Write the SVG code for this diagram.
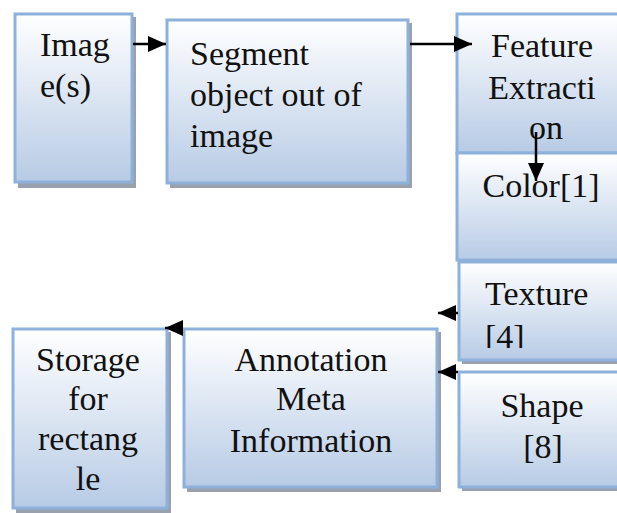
<svg xmlns="http://www.w3.org/2000/svg" width="617" height="513" viewBox="0 0 617 513">
  <defs>
    <linearGradient id="fill" x1="0" y1="0" x2="0" y2="1">
      <stop offset="0" stop-color="#ffffff"/>
      <stop offset="1" stop-color="#b7cbe5"/>
    </linearGradient>
    <marker id="arrow" viewBox="0 0 18 16" refX="18" refY="8" markerWidth="18" markerHeight="16" markerUnits="userSpaceOnUse" orient="auto">
      <path d="M0,0 L18,8 L0,16 z" fill="#000"/>
    </marker>
    <clipPath id="texClip"><rect x="460" y="263" width="160" height="85"/></clipPath>
  </defs>
  <style>
    .box { fill: url(#fill); stroke: #8eb1dc; stroke-width: 3; }
    .shadow { fill: #98a1ad; }
    text { font-family: "Liberation Serif", "Times New Roman", serif; font-size: 34px; fill: #111; }
    .mid { text-anchor: middle; }
    .conn { stroke: #000; stroke-width: 2.5; fill: none; marker-end: url(#arrow); }
  </style>
  <rect width="617" height="513" fill="#fff"/>

  <g id="node-images">
    <rect class="shadow" x="18" y="17" width="118" height="171"/>
    <rect class="box" x="15" y="14" width="117" height="168"/>
    <text x="40" y="56">Imag</text>
    <text x="40" y="97">e(s)</text>
  </g>

  <g id="node-segment">
    <rect class="shadow" x="170" y="23" width="242" height="165"/>
    <rect class="box" x="167" y="20" width="241" height="163"/>
    <text x="190" y="65">Segment</text>
    <text x="190" y="106">object out of</text>
    <text x="190" y="147">image</text>
  </g>

  <g id="node-feature">
    <rect class="box" x="457" y="14" width="170" height="139"/>
    <text class="mid" x="542" y="57">Feature</text>
    <text class="mid" x="542" y="99">Extracti</text>
    <text class="mid" x="546" y="139">on</text>
  </g>

  <g id="node-color">
    <rect class="box" x="457" y="153" width="170" height="107"/>
    <text class="mid" x="541" y="197">Color[1]</text>
  </g>

  <g id="node-texture">
    <rect class="shadow" x="462" y="266" width="170" height="98"/>
    <rect class="box" x="459" y="262" width="170" height="98"/>
    <g clip-path="url(#texClip)">
      <text x="485" y="305">Texture</text>
      <text x="485" y="348">[4]</text>
    </g>
  </g>

  <g id="node-shape">
    <rect class="shadow" x="462" y="376" width="170" height="115"/>
    <rect class="box" x="459" y="372" width="170" height="115"/>
    <text class="mid" x="542" y="417">Shape</text>
    <text class="mid" x="543" y="458">[8]</text>
  </g>

  <g id="node-annotation">
    <rect class="shadow" x="187" y="332" width="254" height="160"/>
    <rect class="box" x="184" y="329" width="253" height="158"/>
    <text class="mid" x="311" y="371">Annotation</text>
    <text class="mid" x="311" y="410">Meta</text>
    <text class="mid" x="311" y="452">Information</text>
  </g>

  <g id="node-storage">
    <rect class="shadow" x="16" y="332" width="155" height="181"/>
    <rect class="box" x="13" y="329" width="154" height="179"/>
    <text class="mid" x="88" y="371">Storage</text>
    <text class="mid" x="88" y="410">for</text>
    <text class="mid" x="88" y="450">rectang</text>
    <text class="mid" x="88" y="490">le</text>
  </g>

  <g id="connectors">
    <line class="conn" x1="133" y1="44" x2="166" y2="44"/>
    <line class="conn" x1="410" y1="44" x2="472" y2="44"/>
    <line class="conn" x1="536" y1="132" x2="536" y2="181"/>
    <line class="conn" x1="458" y1="313" x2="438" y2="313"/>
    <line class="conn" x1="458" y1="372" x2="438" y2="372"/>
    <line class="conn" x1="183" y1="328" x2="165" y2="328"/>
  </g>
</svg>
